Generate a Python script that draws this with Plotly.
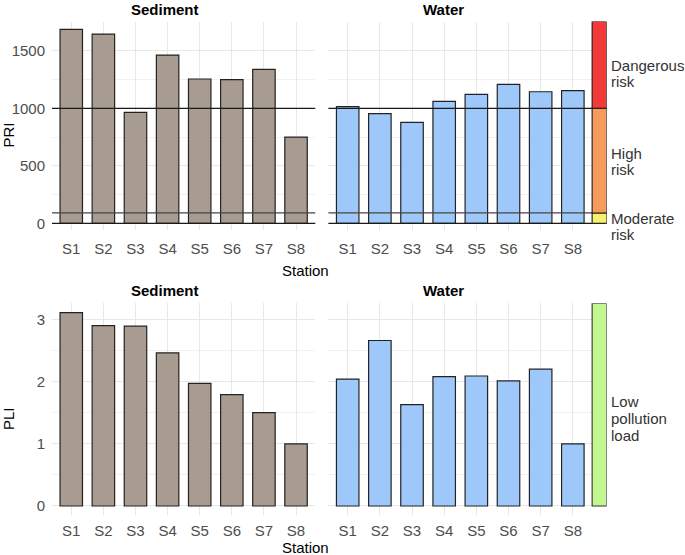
import plotly.graph_objects as go

# Data
stations = ["S1", "S2", "S3", "S4", "S5", "S6", "S7", "S8"]

pri_sediment = [1687, 1646, 965, 1463, 1255, 1249, 1339, 750]
pri_water = [1014, 953, 878, 1061, 1122, 1209, 1144, 1153]

pli_sediment = [3.11, 2.90, 2.89, 2.46, 1.97, 1.79, 1.50, 1.00]
pli_water = [2.04, 2.66, 1.63, 2.08, 2.09, 2.01, 2.20, 1.00]

# PRI risk bands (lower, upper) and PLI band
pri_bands = [(0, 90), (90, 1000), (1000, 1755)]
pri_band_colors = ["#f5f36e", "#f69a5e", "#f23a38"]
pri_lines = [0, 90, 1000]
pli_band = (0, 3.26)
pli_band_color = "#c2f68f"

W, H = 685, 555
FONT = "Liberation Sans, Arial, sans-serif"
sed_color = "#a89b90"
water_color = "#9fc8fa"


def px(x):
    return x / W


def py(y):
    return 1 - y / H


fig = go.Figure()

panels = [
    ("x", "y", stations, pri_sediment, sed_color),
    ("x2", "y2", stations, pri_water, water_color),
    ("x3", "y3", stations, pli_sediment, sed_color),
    ("x4", "y4", stations, pli_water, water_color),
]
for xa, ya, cats, vals, col in panels:
    fig.add_trace(go.Bar(
        x=cats, y=vals, xaxis=xa, yaxis=ya,
        marker=dict(color=col, line=dict(color="#222222", width=1.2)),
        width=0.7, showlegend=False, hoverinfo="x+y",
    ))

# threshold lines in PRI panels
for xr, yr in [("x domain", "y"), ("x2 domain", "y2")]:
    for v in pri_lines:
        fig.add_shape(type="line", xref=xr, yref=yr, x0=0, x1=1, y0=v, y1=v,
                      line=dict(color="#1a1a1a" if v != 90 else "#444444", width=1.3),
                      layer="above")

# risk colour strip to the right of Water panels
for (lo, hi), c in zip(pri_bands, pri_band_colors):
    fig.add_shape(type="rect", xref="x2", yref="y2", x0=7.6, x1=8.05, y0=lo, y1=hi,
                  fillcolor=c, line=dict(color="#1a1a1a", width=1.1), layer="above")
fig.add_shape(type="rect", xref="x4", yref="y4", x0=7.6, x1=8.05,
              y0=pli_band[0], y1=pli_band[1],
              fillcolor=pli_band_color, line=dict(color="#333333", width=1.1), layer="above")

grid = "#e8e8e8"
tickfont = dict(family=FONT, size=15, color="#4d4d4d")
sed_dom = [px(52.0), px(315.3)]
wat_dom = [px(328.4), px(606.6)]
top_dom = [py(230.2), py(21.5)]
bot_dom = [py(514.7), py(303.2)]

xcommon = dict(type="category", showgrid=True, gridcolor=grid, gridwidth=1,
               zeroline=False, showline=False, ticks="", tickfont=tickfont)
fig.update_layout(
    xaxis=dict(domain=sed_dom, range=[-0.6, 7.6], anchor="y", ticklabelstandoff=8, **xcommon),
    xaxis2=dict(domain=wat_dom, range=[-0.6, 8.05], anchor="y2", ticklabelstandoff=8, **xcommon),
    xaxis3=dict(domain=sed_dom, range=[-0.6, 7.6], anchor="y3", ticklabelstandoff=5, **xcommon),
    xaxis4=dict(domain=wat_dom, range=[-0.6, 8.05], anchor="y4", ticklabelstandoff=5, **xcommon),
)

ycommon = dict(showgrid=True, gridcolor=grid, gridwidth=1, zeroline=False,
               showline=False, ticks="", tickfont=tickfont)
fig.update_layout(
    yaxis=dict(domain=top_dom, range=[-60, 1755], anchor="x", tickvals=[0, 500, 1000, 1500],
               minor=dict(tickvals=[250, 750, 1250, 1750], showgrid=True, gridcolor="#f1f1f1"),
               ticklabelstandoff=6, **ycommon),
    yaxis2=dict(domain=top_dom, range=[-60, 1755], anchor="x2", tickvals=[0, 500, 1000, 1500],
                minor=dict(tickvals=[250, 750, 1250, 1750], showgrid=True, gridcolor="#f1f1f1"),
                showticklabels=False, **ycommon),
    yaxis3=dict(domain=bot_dom, range=[-0.14, 3.26], anchor="x3", tickvals=[0, 1, 2, 3],
                minor=dict(tickvals=[0.5, 1.5, 2.5], showgrid=True, gridcolor="#f1f1f1"),
                ticklabelstandoff=6, **ycommon),
    yaxis4=dict(domain=bot_dom, range=[-0.14, 3.26], anchor="x4", tickvals=[0, 1, 2, 3],
                minor=dict(tickvals=[0.5, 1.5, 2.5], showgrid=True, gridcolor="#f1f1f1"),
                showticklabels=False, **ycommon),
)

# text annotations
ann = []
title_font = dict(family=FONT, size=15, color="#000000")
for x, y, t in [(164.5, 9, "<b>Sediment</b>"), (443.3, 9, "<b>Water</b>"),
                (164.5, 290.5, "<b>Sediment</b>"), (443.3, 290.5, "<b>Water</b>")]:
    ann.append(dict(x=px(x), y=py(y), text=t, font=title_font))
for y in [270, 547]:
    ann.append(dict(x=px(305.5), y=py(y), text="Station", font=title_font))
ann.append(dict(x=px(8), y=py(134.5), text="PRI", textangle=-90, font=title_font))
ann.append(dict(x=px(8), y=py(418), text="PLI", textangle=-90, font=title_font))

label_font = dict(family=FONT, size=15, color="#333333")
side_labels = [(65, "Dangerous"), (81, "risk"), (153, "High"), (169, "risk"),
               (218, "Moderate"), (234, "risk"),
               (401.7, "Low"), (418.3, "pollution"), (435, "load")]
for y, t in side_labels:
    ann.append(dict(x=px(609), y=py(y), text=t, xanchor="left", font=label_font))

for a in ann:
    a.setdefault("xanchor", "center")
    a.update(xref="paper", yref="paper", yanchor="middle", showarrow=False)
fig.update_layout(annotations=ann)

fig.update_layout(
    width=W, height=H,
    margin=dict(l=0, r=0, t=0, b=0),
    paper_bgcolor="white", plot_bgcolor="white",
    bargap=0.3,
)

# drop the page's default body margin so the figure fills the window exactly
fig.write_html("out.html", config={"displayModeBar": False},
               post_script="document.body.style.margin='0';document.body.style.overflow='hidden';")
